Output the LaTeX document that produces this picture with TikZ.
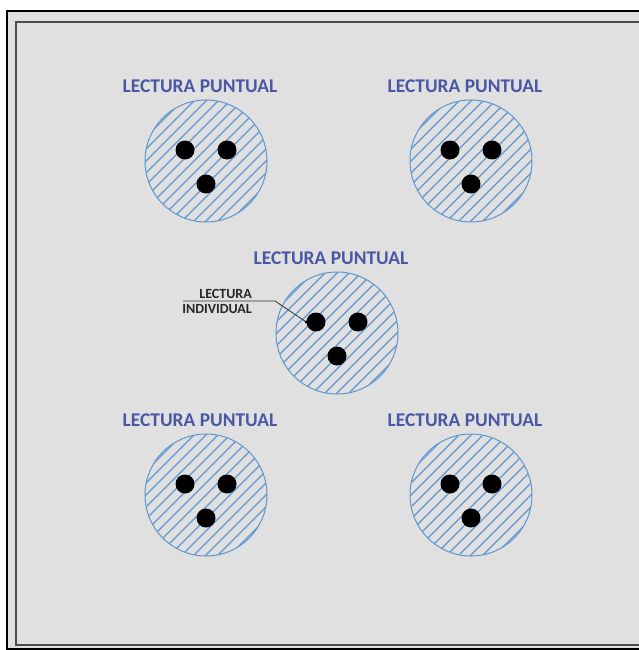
\documentclass[tikz,border=0pt]{standalone}
\usepackage{fontspec}
\setmainfont{Carlito}
\begin{document}
\begin{tikzpicture}[x=1pt,y=-1pt,
  title/.style={font=\bfseries\fontsize{19.4}{21}\selectfont, text=titleblue, inner sep=0pt},
  small/.style={font=\bfseries\fontsize{14}{15}\selectfont, text=black!85, inner sep=0pt},
  dot/.style={circle, fill=black, minimum size=19pt, inner sep=0pt},
  ring/.style={draw=hatchblue, line width=1pt},
]
\definecolor{titleblue}{HTML}{4A57A6}
\definecolor{hatchblue}{HTML}{5E97CF}
\definecolor{panelgray}{HTML}{E0E0E0}
\useasboundingbox (0,0) rectangle (638,650);
% frame
\draw[line width=1.8pt, fill=panelgray] (7,11) rectangle (660,649);
\draw[line width=1.2pt, draw=black!70] (16,22) rectangle (655,645);
% a reading station: hatched disc, three readings and its title
\newcommand{\station}[3]{%
  \begin{scope}[shift={(#1,#2)}]
    \begin{scope}
      \clip (0,0) circle (61);
      \foreach \k in {-10,...,10}
        \draw[hatchblue, line width=1.1pt] (-80+12*\k,80) -- (80+12*\k,-80);
    \end{scope}
    \node[ring, circle, minimum size=122pt, inner sep=0pt] (#3c) at (0,0) {};
    \node[dot] (#3a) at (-21,-11) {};
    \node[dot] (#3b) at (21,-11) {};
    \node[dot] (#3d) at (0,23) {};
    \node[title] (#3t) at (-6,-75) {LECTURA PUNTUAL};
  \end{scope}}
\station{206}{161}{s1}
\station{471}{161}{s2}
\station{337}{333}{s3}
\station{206}{495}{s4}
\station{471}{495}{s5}
% individual reading callout
\node[small, anchor=south east] (lbl1) at (252,299) {LECTURA};
\node[small, anchor=north east] (lbl2) at (252,304) {INDIVIDUAL};
\coordinate (l0) at (183,301);
\coordinate (l1) at (275,301);
\draw[black!80, line width=0.8pt] (l0) -- (l1) -- (s3a.west);
\fill[black] (s3a.west) circle (1.6);
\end{tikzpicture}
\end{document}
